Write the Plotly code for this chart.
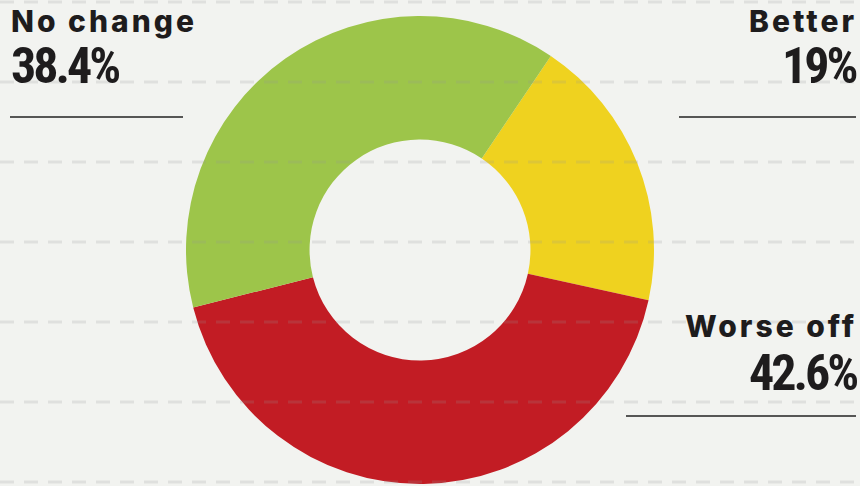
import plotly.graph_objects as go

categories = ["Better", "Worse off", "No change"]
values = [19.0, 42.6, 38.4]
value_labels = ["19%", "42.6%", "38.4%"]
colors = ["#EFD21F", "#C21C24", "#9DC54A"]

W, H = 860, 486
BG = "#F2F3F0"

def py(y):
    return 1 - y / H

fig = go.Figure()
fig.add_trace(go.Pie(
    labels=categories, values=values, sort=False, direction="clockwise",
    rotation=34, hole=0.472, marker=dict(colors=colors, line=dict(width=0)),
    textinfo="none", hoverinfo="label+value", showlegend=False,
    domain=dict(x=[186 / W, 654 / W], y=[py(484), py(16)]),
))

shapes = []
# dashed background guide lines
for yy in [2, 82, 162, 242, 322, 402, 482]:
    shapes.append(dict(type="line", xref="paper", yref="paper", x0=0, x1=1,
                       y0=py(yy), y1=py(yy), layer="above",
                       line=dict(color="rgba(150,150,150,0.2)", width=3, dash="14px,10px")))
# label underlines
for x0, x1, yy in [(10, 183, 117), (679, 856, 117), (626, 856, 416)]:
    shapes.append(dict(type="line", xref="paper", yref="paper", x0=x0 / W, x1=x1 / W,
                       y0=py(yy), y1=py(yy), layer="above",
                       line=dict(color="#222222", width=1.5)))

name_font = dict(family="Inter", size=30, color="#1E1C1D", weight=800)
num_font = dict(family="Roboto Condensed", size=50, color="#1E1C1D", weight=700)

def spaced(t, px):
    return '<span style="letter-spacing:%spx">%s</span>' % (px, t)

# label placement: (category index, x, align, name y-center, number y-center)
placements = [
    (2, 9 / W, "left", 21, 66),
    (0, 859 / W, "right", 21, 66),
    (1, 859 / W, "right", 326, 373),
]
annotations = []
for idx, x, al, yn, yv in placements:
    annotations.append(dict(text=spaced(categories[idx], 3), x=x, y=py(yn), xref="paper", yref="paper",
                            xanchor=al, yanchor="middle", showarrow=False, font=name_font))
    annotations.append(dict(text=spaced(value_labels[idx], -3), x=x, y=py(yv), xref="paper", yref="paper",
                            xanchor=al, yanchor="middle", showarrow=False, font=num_font))

fig.update_layout(
    width=W, height=H, margin=dict(l=0, r=0, t=0, b=0),
    paper_bgcolor=BG, plot_bgcolor=BG,
    shapes=shapes, annotations=annotations,
)
fig.write_html("out.html")
